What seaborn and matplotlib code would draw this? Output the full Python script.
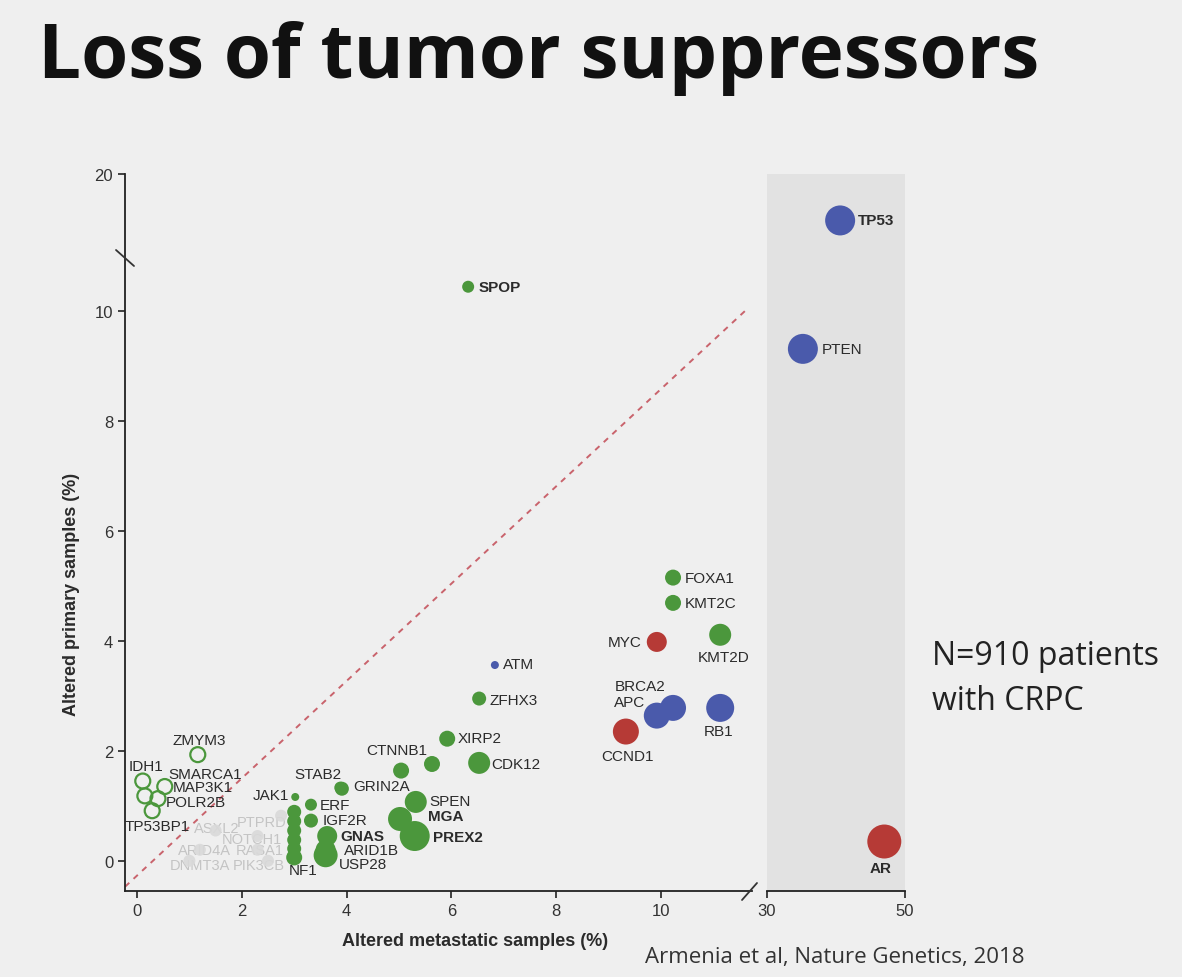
import numpy as np
import pandas as pd
import matplotlib
matplotlib.use("Agg")
import matplotlib.pyplot as plt
import seaborn as sns

# ---------------- data ----------------
genes = ["SPOP", "FOXA1", "KMT2C", "KMT2D", "ZFHX3", "XIRP2", "CDK12", "", "CTNNB1",
         "GRIN2A", "STAB2", "JAK1", "ERF", "IGF2R", "", "", "", "", "", "NF1",
         "GNAS", "ARID1B", "USP28", "SPEN", "MGA", "PREX2",
         "ZMYM3", "IDH1", "MAP3K1", "POLR2B", "SMARCA1", "TP53BP1",
         "ATM", "BRCA2", "APC", "RB1", "TP53", "PTEN",
         "MYC", "CCND1", "AR",
         "PTPRD", "ASXL2", "NOTCH1", "ARID4A", "RASA1", "DNMT3A", "PIK3CB"]
met_pct = [6.32, 10.23, 10.23, 11.13, 6.53, 5.92, 6.53, 5.63, 5.04,
           3.91, 3.88, 3.02, 3.32, 3.32, 3.00, 3.00, 3.00, 3.00, 3.00, 3.00,
           3.63, 3.60, 3.60, 5.32, 5.02, 5.30,
           1.16, 0.11, 0.53, 0.15, 0.40, 0.29,
           6.83, 10.23, 9.92, 11.13, 40.6, 35.2,
           9.92, 9.33, 47.0,
           2.75, 1.50, 2.30, 1.20, 2.30, 1.00, 2.50]
pri_pct = [10.44, 5.15, 4.69, 4.11, 2.95, 2.22, 1.78, 1.76, 1.64,
           1.31, 1.33, 1.16, 1.02, 0.73, 0.89, 0.72, 0.55, 0.38, 0.22, 0.06,
           0.45, 0.20, 0.10, 1.07, 0.76, 0.45,
           1.93, 1.45, 1.35, 1.18, 1.13, 0.91,
           3.56, 2.78, 2.64, 2.78, 14.9, 9.31,
           3.98, 2.35, 0.35,
           0.82, 0.55, 0.45, 0.20, 0.20, 0.00, 0.00]
group = (["Novel"] * 26 + ["Primary"] * 6 + ["Suppressor"] * 6 +
         ["Oncogene"] * 3 + ["Minor"] * 7)
weight = [36, 64, 64, 121, 49, 64, 121, 64, 64,
          49, 36, 16, 36, 49, 49, 49, 49, 49, 49, 64,
          100, 100, 144, 121, 144, 225,
          56, 56, 56, 56, 56, 56,
          16, 169, 169, 196, 225, 225,
          100, 169, 289,
          36, 36, 36, 36, 36, 36, 36]
bold_genes = ["SPOP", "GNAS", "MGA", "PREX2", "TP53", "AR"]

x_ticks_left = [0, 2, 4, 6, 8, 10]
x_ticks_right = [30, 50]
y_ticks = [0, 2, 4, 6, 8, 10, 20]
ref_slope, ref_intercept = 0.885, -0.27

title = "Loss of tumor suppressors"
xlabel = "Altered metastatic samples (%)"
ylabel = "Altered primary samples (%)"
note = "N=910 patients\nwith CRPC"
source = "Armenia et al, Nature Genetics, 2018"

# ---------------- layout / style ----------------
label_layout = {  # dx, dy in pixels (dy downwards), horizontal alignment
    "SPOP": (10, 0, "left"), "FOXA1": (12, 0, "left"), "KMT2C": (12, 0, "left"),
    "KMT2D": (3, 22, "center"), "ZFHX3": (10, 1, "left"), "XIRP2": (10, -1, "left"),
    "CDK12": (12, 1, "left"), "CTNNB1": (-4, -21, "center"), "GRIN2A": (11, -3, "left"),
    "STAB2": (1, -14, "right"), "JAK1": (-6, -2, "right"), "ERF": (9, 0, "left"),
    "IGF2R": (12, -1, "left"), "NF1": (9, 13, "center"), "GNAS": (13, 0, "left"),
    "ARID1B": (18, 0, "left"), "USP28": (13, 9, "left"), "SPEN": (14, -1, "left"),
    "MGA": (28, -3, "left"), "PREX2": (18, 1, "left"),
    "ZMYM3": (1, -15, "center"), "IDH1": (3, -15, "center"), "MAP3K1": (8, 0, "left"),
    "POLR2B": (21, 6, "left"), "SMARCA1": (10, -25, "left"), "TP53BP1": (5, 15, "center"),
    "ATM": (8, -1, "left"), "BRCA2": (-8, -22, "right"), "APC": (-12, -14, "right"),
    "RB1": (-2, 23, "center"), "TP53": (18, 0, "left"), "PTEN": (19, 0, "left"),
    "MYC": (-15, 0, "right"), "CCND1": (2, 24, "center"), "AR": (-4, 26, "center"),
    "PTPRD": (-19, 6, "center"), "ASXL2": (1, -3, "center"), "NOTCH1": (-6, 3, "center"),
    "ARID4A": (5, 0, "center"), "RASA1": (2, 0, "center"), "DNMT3A": (11, 4, "center"),
    "PIK3CB": (-9, 4, "center"),
}
palette = {"Novel": "#4b973c", "Suppressor": "#4a5aab", "Oncogene": "#b63a36",
           "Minor": "#d9d9d9", "Primary": "#4b973c"}
BG = "#efefef"
PANEL = "#e2e2e2"
TXT = "#2b2b2b"

df = pd.DataFrame({"gene": genes, "met": met_pct, "pri": pri_pct,
                   "group": group, "weight": weight})

sns.set_theme(style="white")
plt.rcParams["font.family"] = ["Liberation Sans", "DejaVu Sans"]

W, H = 1182, 978
fig = plt.figure(figsize=(W / 100, H / 100), dpi=100, facecolor=BG)

def fr(px_l, px_t, px_r, px_b):
    return [px_l / W, 1 - px_b / H, (px_r - px_l) / W, (px_b - px_t) / H]

ax1 = fig.add_axes(fr(125, 175, 752, 892))
ax2 = fig.add_axes(fr(767, 175, 905, 892))
ax1.set_facecolor(BG)
ax2.set_facecolor(PANEL)

Y_BREAK, Y_K = 11.0, 0.1656
def fwd(y):
    y = np.asarray(y, float)
    return np.where(y <= Y_BREAK, y, Y_BREAK + (y - Y_BREAK) * Y_K)
def inv(t):
    t = np.asarray(t, float)
    return np.where(t <= Y_BREAK, t, Y_BREAK + (t - Y_BREAK) / Y_K)

for ax in (ax1, ax2):
    ax.set_yscale("function", functions=(fwd, inv))
    ax.set_ylim(-0.55, 20)
ax1.set_xlim(-0.229, 11.737)
ax2.set_xlim(30, 50)

size_kw = dict(size="weight", sizes=(0, 829), size_norm=(0, 400), legend=False)

def draw(ax, sub):
    minor = sub[sub.group == "Minor"]
    if len(minor):
        sns.scatterplot(data=minor, x="met", y="pri", ax=ax, color=palette["Minor"],
                        edgecolor="none", alpha=0.9, zorder=2, **size_kw)
    hollow = sub[sub.group == "Primary"]
    if len(hollow):
        sns.scatterplot(data=hollow, x="met", y="pri", ax=ax, facecolor="none",
                        edgecolor=palette["Primary"], linewidth=1.6, zorder=3, **size_kw)
    filled = sub[sub.group.isin(["Novel", "Suppressor", "Oncogene"])]
    if len(filled):
        sns.scatterplot(data=filled, x="met", y="pri", hue="group", palette=palette,
                        ax=ax, edgecolor="none", linewidth=0, zorder=4, **size_kw)
    for _, r in sub.iterrows():
        if not r.gene:
            continue
        dx, dy, ha = label_layout[r.gene]
        minor_lab = r.group == "Minor"
        ax.annotate(r.gene, (r.met, r.pri), xytext=(dx * 0.72, -dy * 0.72),
                    textcoords="offset points", ha=ha, va="center",
                    fontsize=10.5 if minor_lab else 11,
                    color="#c4c4c4" if minor_lab else TXT,
                    fontweight="bold" if r.gene in bold_genes else "normal",
                    zorder=1 if minor_lab else 5)

draw(ax1, df[df.met < 20])
draw(ax2, df[df.met >= 20])

xs = np.array([ax1.get_xlim()[0], 11.6])
ax1.plot(xs, ref_slope * xs + ref_intercept, ls=(0, (3, 3)), color="#c9636c",
         lw=1.4, zorder=1)

# axes styling
for ax in (ax1, ax2):
    for s in ("top", "right"):
        ax.spines[s].set_visible(False)
    ax.spines["bottom"].set_color("#222222")
    ax.spines["bottom"].set_linewidth(1.3)
    ax.tick_params(axis="x", direction="out", length=5, width=1.2, colors="#222222",
                   labelsize=12, labelcolor="#333333", bottom=True)
    ax.set_xlabel("")
    ax.set_ylabel("")
ax1.spines["left"].set_color("#222222")
ax1.spines["left"].set_linewidth(1.3)
ax1.tick_params(axis="y", direction="out", length=5, width=1.2, colors="#222222",
                labelsize=12, labelcolor="#333333", left=True)
ax1.set_xticks(x_ticks_left)
ax1.set_yticks(y_ticks)
ax1.set_yticklabels([str(v) for v in y_ticks])
ax1.yaxis.set_minor_locator(matplotlib.ticker.NullLocator())
ax2.set_xticks(x_ticks_right)
ax2.spines["left"].set_visible(False)
ax2.set_yticks([])
ax2.yaxis.set_minor_locator(matplotlib.ticker.NullLocator())

ax1.set_xlabel(xlabel, fontsize=13, fontweight="bold", color=TXT)
ax1.xaxis.set_label_coords((475 - 125) / 627, (892 - 942) / 717)
ax1.set_ylabel(ylabel, fontsize=13, fontweight="bold", color=TXT)
ax1.yaxis.set_label_coords((72 - 125) / 627, (892 - 594) / 717)
ax1.xaxis.label.set_va("center")
ax1.yaxis.label.set_va("center")

# break marks
def px_line(p0, p1):
    fig.add_artist(plt.Line2D([p0[0] / W, p1[0] / W], [1 - p0[1] / H, 1 - p1[1] / H],
                              transform=fig.transFigure, color="#333333", lw=1.3))
px_line((116, 251), (134, 267))
px_line((742, 901), (757, 884))

# texts
fig.text(38 / W, 1 - 78 / H, title, fontsize=55, fontweight="bold",
         family=["Open Sans", "DejaVu Sans"], color="#111111", va="baseline", ha="left")
fig.text(932 / W, 1 - 679 / H, note, fontsize=23, family=["Open Sans", "DejaVu Sans"],
         color="#222222", va="center", ha="left", linespacing=1.45)
fig.text(645 / W, 1 - 958 / H, source, fontsize=16, family=["Open Sans", "DejaVu Sans"],
         color="#333333", va="center", ha="left")

fig.savefig("out.png", dpi=100, facecolor=BG)
